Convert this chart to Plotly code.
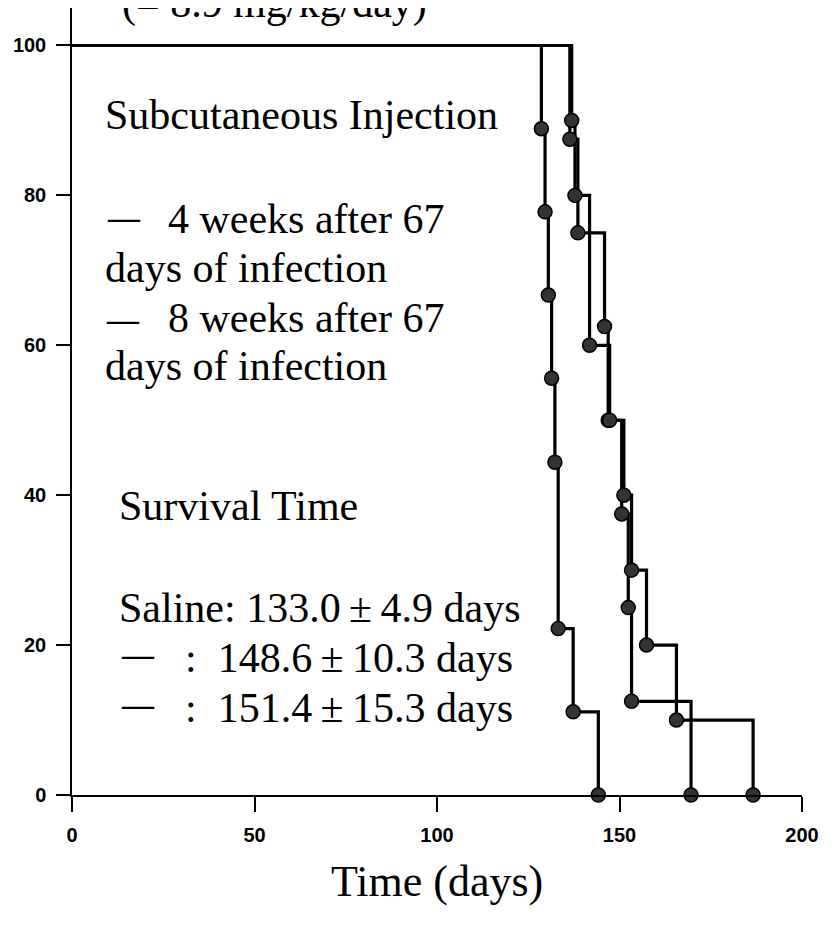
import plotly.graph_objects as go

# ---- data ----
saline_days = [128.6, 129.6, 130.5, 131.4, 132.3, 133.2, 137.3, 144.2]
saline_surv = [88.9, 77.8, 66.7, 55.6, 44.4, 22.2, 11.1, 0.0]

wk4_days = [136.4, 138.6, 145.9, 146.9, 150.6, 152.4, 153.3, 169.6]
wk4_surv = [87.5, 75.0, 62.5, 50.0, 37.5, 25.0, 12.5, 0.0]

wk8_days = [136.9, 137.8, 141.8, 147.3, 151.2, 153.3, 157.4, 165.6, 186.6]
wk8_surv = [90.0, 80.0, 60.0, 50.0, 40.0, 30.0, 20.0, 10.0, 0.0]

x_ticks = [0, 50, 100, 150, 200]
y_ticks = [0, 20, 40, 60, 80, 100]

start_day = 0
start_surv = 100

# ---- layout geometry (page pixels; the page body has an 8px margin) ----
OFF = 8
W, H = 835 - OFF, 930 - OFF
PLOT_L, PLOT_R, PLOT_T, PLOT_B = 72, 802, 8, 795   # page pixels
L = PLOT_L - OFF
T = PLOT_T - OFF
R = W - (PLOT_R - OFF)
B = H - (PLOT_B - OFF)
PW = PLOT_R - PLOT_L
PH = PLOT_B - PLOT_T


def xp(px):
    return (px - PLOT_L) / PW


def yp(py):
    return (PLOT_B - py) / PH


SERIF = "Liberation Serif, Times New Roman, serif"
FS = 42

fig = go.Figure()

for days, surv in [(saline_days, saline_surv), (wk4_days, wk4_surv), (wk8_days, wk8_surv)]:
    fig.add_trace(go.Scatter(
        x=[start_day] + days, y=[start_surv] + surv,
        mode="lines", line=dict(color="black", width=3.2, shape="hv"),
        cliponaxis=False, hoverinfo="skip"))

for days, surv in [(saline_days, saline_surv), (wk4_days, wk4_surv), (wk8_days, wk8_surv)]:
    fig.add_trace(go.Scatter(
        x=days, y=surv, mode="markers",
        marker=dict(size=14, color="#333333", line=dict(color="black", width=1.5)),
        cliponaxis=False, hoverinfo="skip"))

annos = []


def text(s, px, baseline, size=FS, anchor="left"):
    annos.append(dict(
        text=s, xref="paper", yref="paper", x=xp(px), y=yp(baseline - 0.34 * size),
        xanchor=anchor, yanchor="middle", showarrow=False,
        font=dict(family=SERIF, size=size, color="black")))


def dash(px, py, size=32):
    annos.append(dict(
        text="\u2014", xref="paper", yref="paper", x=xp(px), y=yp(py - 3),
        xanchor="left", yanchor="middle", showarrow=False,
        font=dict(family=SERIF, size=size, color="black", weight="bold")))


PM = "\u2009\u00b1\u2009"
text("(= 8.9 mg/kg/day)", 120, 18)
text("Subcutaneous Injection", 103, 129)
dash(105, 220)
text("4 weeks after 67", 166, 233)
text("days of infection", 103, 282)
dash(104, 322)
text("8 weeks after 67", 166, 332)
text("days of infection", 103, 380)
text("Survival Time", 117, 520)
text("Saline: 133.0" + PM + "4.9 days", 117, 622)
dash(119, 657)
text(":  148.6" + PM + "10.3 days", 183, 672)
dash(119, 707)
text(":  151.4" + PM + "15.3 days", 183, 722)
text("Time (days)", 437, 896, size=44, anchor="center")

tickfont = dict(family="Liberation Sans, Arial, sans-serif", size=20, color="black", weight="bold")

fig.update_layout(
    width=W, height=H,
    margin=dict(l=L, r=R, t=T, b=B, pad=0),
    plot_bgcolor="white", paper_bgcolor="white",
    showlegend=False,
    annotations=annos,
    xaxis=dict(range=[0, 200], tickvals=x_ticks, ticks="outside", ticklen=15,
               tickwidth=1.5, tickcolor="black", showline=True, linecolor="black",
               linewidth=1.5, showgrid=False, zeroline=False, tickfont=tickfont,
               ticklabelstandoff=6, automargin=False),
    yaxis=dict(range=[0, 105], tickvals=y_ticks, ticks="outside", ticklen=14,
               tickwidth=1.5, tickcolor="black", showline=True, linecolor="black",
               linewidth=1.5, showgrid=False, zeroline=False, tickfont=tickfont,
               ticklabelstandoff=6, automargin=False),
)

fig.write_html("out.html")
